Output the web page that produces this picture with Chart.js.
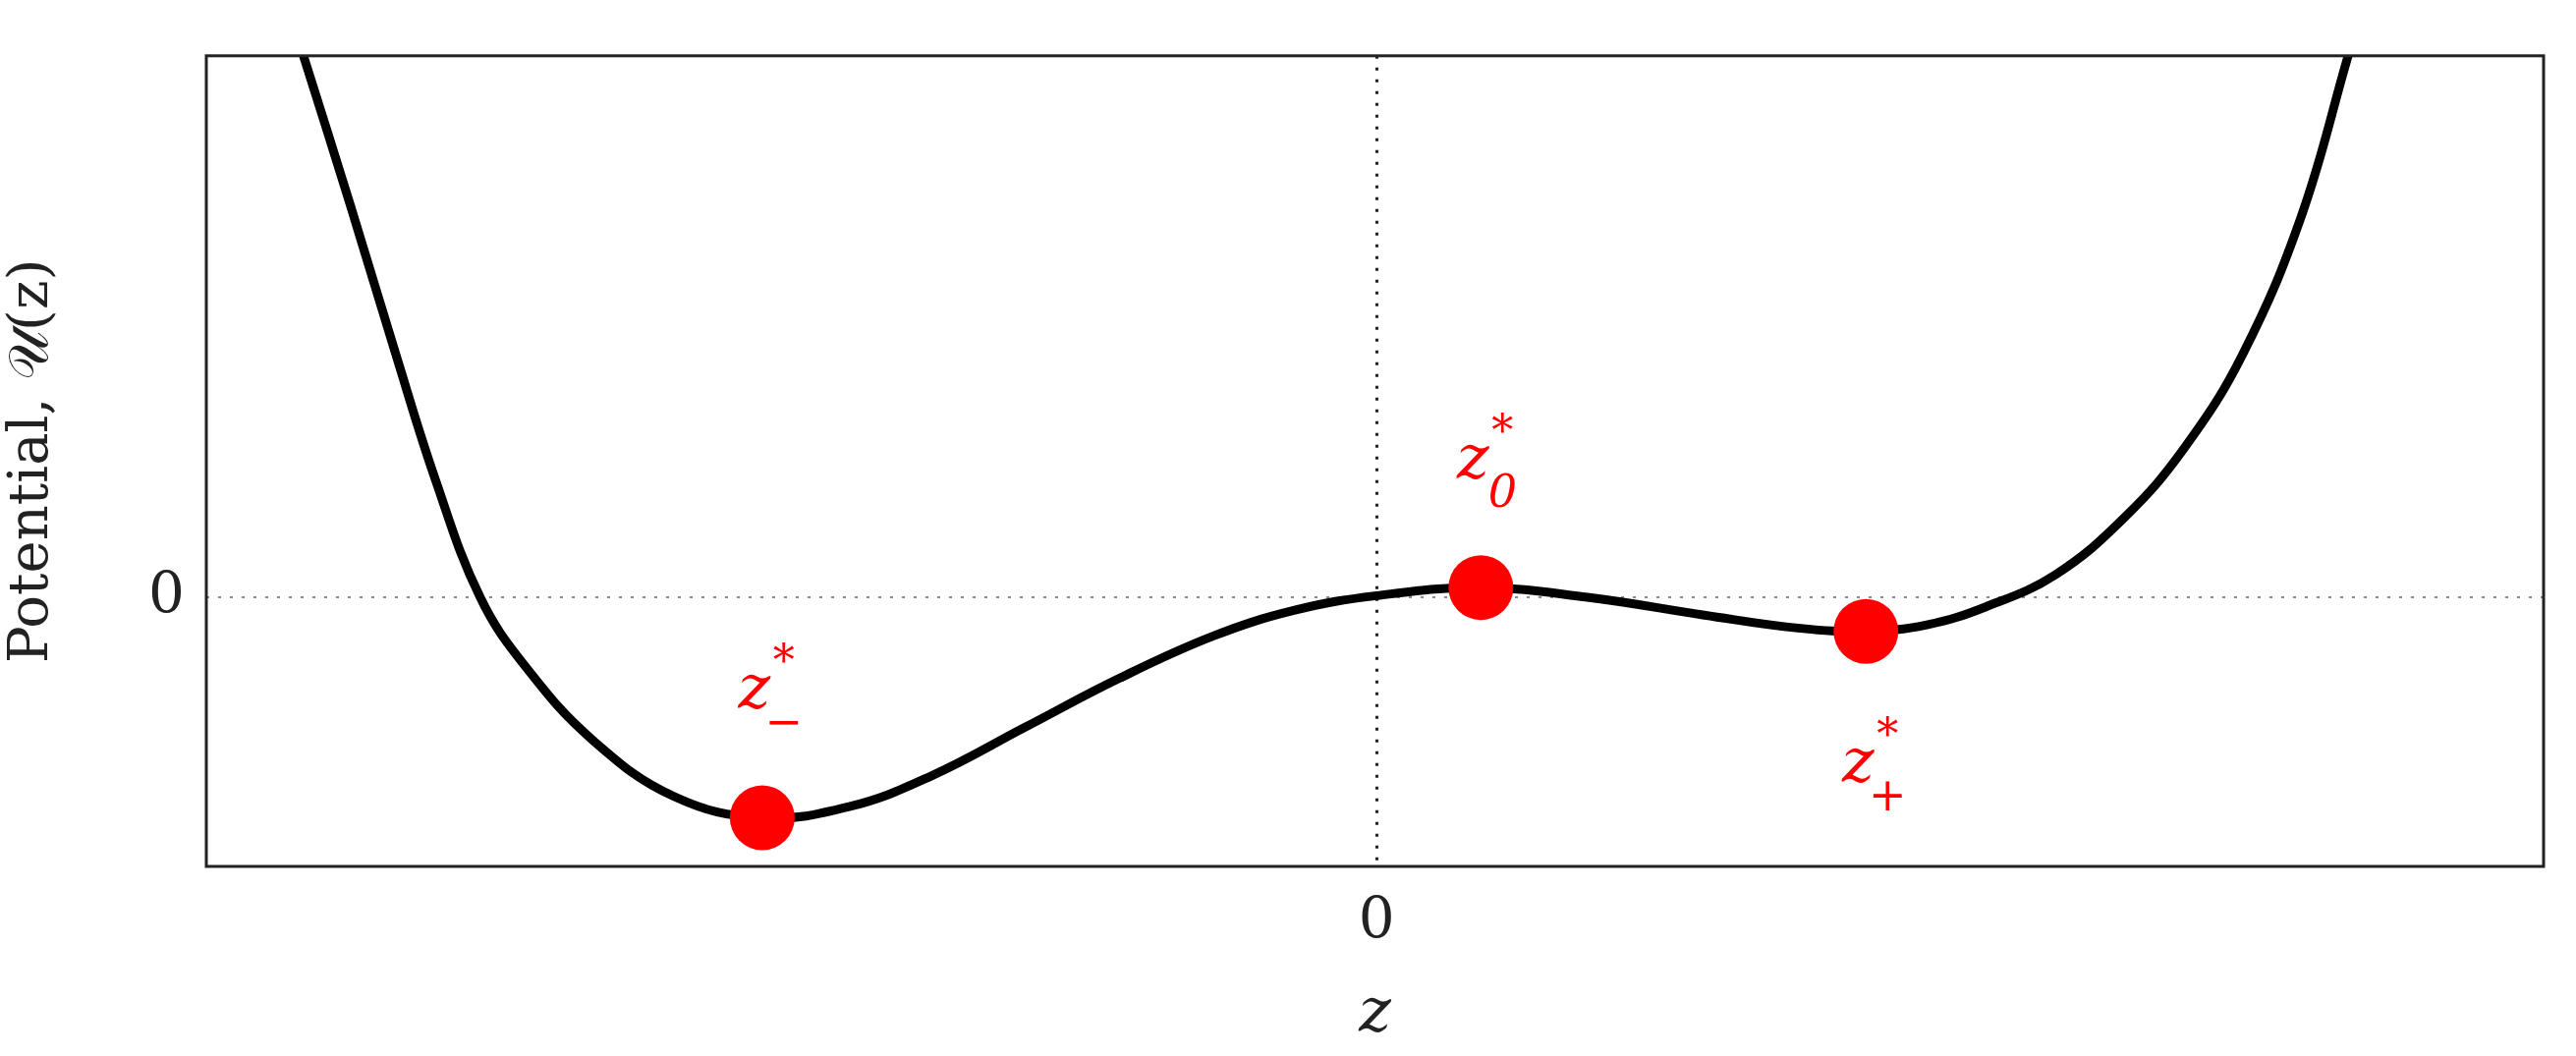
<!DOCTYPE html>
<html><head><meta charset="utf-8">
<script src="https://cdn.jsdelivr.net/npm/chart.js@4"></script>
<style>html,body{margin:0;background:#fff}#w{width:2622px;height:1075px}</style>
</head><body><div id="w"><canvas id="c"></canvas></div>
<script>
const curveZ = [-0.917,-0.877,-0.839,-0.804,-0.766,-0.727,-0.670,-0.600,-0.525,-0.450,-0.380,-0.300,-0.220,-0.140,-0.070,0,0.089,0.180,0.280,0.360,0.418,0.470,0.520,0.580,0.640,0.690,0.740,0.790,0.830];
const curveU = [334,242,152,72,0,-43,-88,-123,-136,-129,-110,-80,-50,-24,-8,1,6,0,-11,-19,-21,-17,-6,14,50,92,150,235,334];
const pointZ = [-0.525,0.089,0.418];
const pointU = [-136,6,-21];
const pointSub = ['\u2212','0','+'];
const labelDy = [80,80,-80]; // label offset in data units relative to point
const xTicks = [0], yTicks = [0];
const F = '"DejaVu Serif","Liberation Serif",serif';

const deco = {
  id:'deco',
  afterDraw(ch){
    const {ctx,chartArea:a,scales:{x,y}} = ch;
    ctx.save();
    ctx.strokeStyle='#222';ctx.lineWidth=3;
    ctx.strokeRect(a.left,a.top,a.right-a.left,a.bottom-a.top);
    ctx.fillStyle='#ff0000';
    pointZ.forEach((z,i)=>{
      const px=x.getPixelForValue(z), py=y.getPixelForValue(pointU[i]+labelDy[i]);
      ctx.font='italic 62px '+F; ctx.textAlign='center'; ctx.textBaseline='alphabetic';
      ctx.fillText('z',px-8,py+20);
      ctx.font='44px '+F; ctx.fillText('*',px+22,py-12);
      ctx.font=(pointSub[i]==='0'?'italic ':'')+'46px '+F; ctx.fillText(pointSub[i],px+22,py+50);
    });
    ctx.restore();
  }
};

new Chart(document.getElementById('c'),{
  type:'scatter',
  data:{datasets:[
    {data:pointZ.map((z,i)=>({x:z,y:pointU[i]})),pointRadius:33,pointHoverRadius:33,backgroundColor:'#ff0000',borderWidth:0,order:0},
    {type:'line',data:curveZ.map((z,i)=>({x:z,y:curveU[i]})),borderColor:'#000',borderWidth:9,pointRadius:0,tension:0.4,fill:false,order:1}
  ]},
  plugins:[deco],
  options:{
    responsive:true,maintainAspectRatio:false,animation:false,
    layout:{padding:{left:0,right:25,top:30,bottom:5}},
    plugins:{legend:{display:false},tooltip:{enabled:false}},
    scales:{
      x:{type:'linear',min:-1.0,max:0.997,
        afterBuildTicks:s=>{s.ticks=xTicks.map(v=>({value:v}))},
        ticks:{font:{family:F,size:58},color:'#222',padding:22},
        grid:{color:'#222',lineWidth:3,drawTicks:false},
        border:{display:false,dash:[3,9]},
        title:{display:true,text:'z',font:{family:F,size:62,style:'italic'},color:'#222',padding:0}},
      y:{min:-166,max:334,
        afterBuildTicks:s=>{s.ticks=yTicks.map(v=>({value:v}))},
        afterFit:s=>{s.width=210},
        ticks:{font:{family:F,size:58},color:'#222',padding:22},
        grid:{color:'#888',lineWidth:2,drawTicks:false},
        border:{display:false,dash:[3,9]},
        title:{display:true,text:'Potential, \uD835\uDCB0(z)',font:{family:F,size:56},color:'#222',padding:0}}
    }
  }
});
</script></body></html>
